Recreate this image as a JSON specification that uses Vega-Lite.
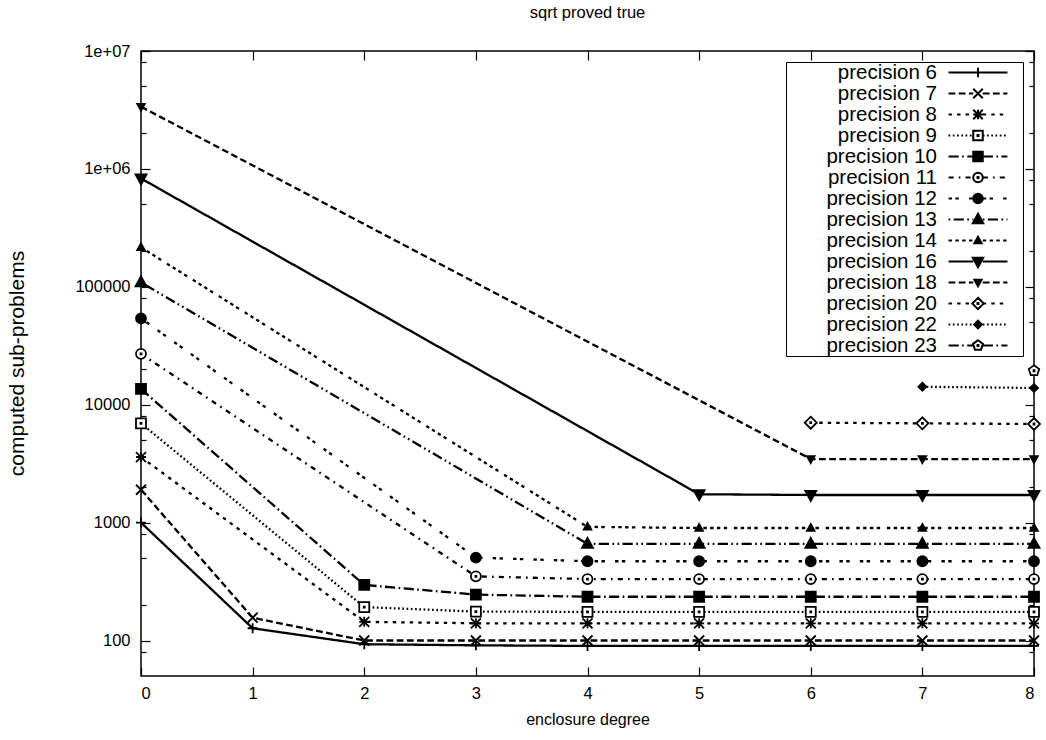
{
  "$schema": "https://vega.github.io/schema/vega-lite/v6.json",
  "width": 893,
  "height": 625,
  "autosize": {"type": "none"},
  "padding": {"left": 141, "top": 51, "right": 12, "bottom": 64},
  "background": "white",
  "config": {
    "font": "Liberation Sans",
    "view": {"stroke": "black", "strokeWidth": 1.5},
    "axis": {"grid": false, "domain": false, "tickColor": "black", "tickWidth": 1.2, "labelColor": "black", "labelFontSize": 16.5, "titleColor": "black", "titleFontSize": 16, "titleFontWeight": "normal", "labelOverlap": false},
    "legend": {"symbolSize": 361, "symbolStrokeWidth": 2, "symbolStrokeColor": "black", "symbolOffset": 181.5, "labelAlign": "right", "labelOffset": -51.5, "labelFontSize": 20.5, "labelColor": "black", "labelLimit": 300, "rowPadding": 0, "padding": 0, "strokeColor": "black", "fillColor": "white"}
  },
  "title": {"text": "sqrt proved true", "fontSize": 16.5, "fontWeight": "normal", "color": "black", "offset": 22},
  "data": {"values": [
    {"s": "precision 6", "x": 0, "y": 1000}, {"s": "precision 6", "x": 1, "y": 127}, {"s": "precision 6", "x": 2, "y": 93}, {"s": "precision 6", "x": 3, "y": 91}, {"s": "precision 6", "x": 4, "y": 90}, {"s": "precision 6", "x": 5, "y": 90}, {"s": "precision 6", "x": 6, "y": 90}, {"s": "precision 6", "x": 7, "y": 90}, {"s": "precision 6", "x": 8, "y": 90},
    {"s": "precision 7", "x": 0, "y": 1900}, {"s": "precision 7", "x": 1, "y": 156}, {"s": "precision 7", "x": 2, "y": 100}, {"s": "precision 7", "x": 3, "y": 100}, {"s": "precision 7", "x": 4, "y": 100}, {"s": "precision 7", "x": 5, "y": 100}, {"s": "precision 7", "x": 6, "y": 100}, {"s": "precision 7", "x": 7, "y": 100}, {"s": "precision 7", "x": 8, "y": 100},
    {"s": "precision 8", "x": 0, "y": 3600}, {"s": "precision 8", "x": 2, "y": 144}, {"s": "precision 8", "x": 3, "y": 140}, {"s": "precision 8", "x": 4, "y": 140}, {"s": "precision 8", "x": 5, "y": 140}, {"s": "precision 8", "x": 6, "y": 140}, {"s": "precision 8", "x": 7, "y": 140}, {"s": "precision 8", "x": 8, "y": 140},
    {"s": "precision 9", "x": 0, "y": 6950}, {"s": "precision 9", "x": 2, "y": 192}, {"s": "precision 9", "x": 3, "y": 176}, {"s": "precision 9", "x": 4, "y": 175}, {"s": "precision 9", "x": 5, "y": 175}, {"s": "precision 9", "x": 6, "y": 175}, {"s": "precision 9", "x": 7, "y": 175}, {"s": "precision 9", "x": 8, "y": 175},
    {"s": "precision 10", "x": 0, "y": 13600}, {"s": "precision 10", "x": 2, "y": 296}, {"s": "precision 10", "x": 3, "y": 245}, {"s": "precision 10", "x": 4, "y": 235}, {"s": "precision 10", "x": 5, "y": 235}, {"s": "precision 10", "x": 6, "y": 235}, {"s": "precision 10", "x": 7, "y": 235}, {"s": "precision 10", "x": 8, "y": 235},
    {"s": "precision 11", "x": 0, "y": 27000}, {"s": "precision 11", "x": 3, "y": 350}, {"s": "precision 11", "x": 4, "y": 332}, {"s": "precision 11", "x": 5, "y": 332}, {"s": "precision 11", "x": 6, "y": 332}, {"s": "precision 11", "x": 7, "y": 332}, {"s": "precision 11", "x": 8, "y": 332},
    {"s": "precision 12", "x": 0, "y": 54000}, {"s": "precision 12", "x": 3, "y": 505}, {"s": "precision 12", "x": 4, "y": 470}, {"s": "precision 12", "x": 5, "y": 470}, {"s": "precision 12", "x": 6, "y": 470}, {"s": "precision 12", "x": 7, "y": 470}, {"s": "precision 12", "x": 8, "y": 470},
    {"s": "precision 13", "x": 0, "y": 109000}, {"s": "precision 13", "x": 4, "y": 660}, {"s": "precision 13", "x": 5, "y": 660}, {"s": "precision 13", "x": 6, "y": 660}, {"s": "precision 13", "x": 7, "y": 660}, {"s": "precision 13", "x": 8, "y": 660},
    {"s": "precision 14", "x": 0, "y": 216000}, {"s": "precision 14", "x": 4, "y": 920}, {"s": "precision 14", "x": 5, "y": 900}, {"s": "precision 14", "x": 6, "y": 900}, {"s": "precision 14", "x": 7, "y": 900}, {"s": "precision 14", "x": 8, "y": 900},
    {"s": "precision 16", "x": 0, "y": 830000}, {"s": "precision 16", "x": 5, "y": 1740}, {"s": "precision 16", "x": 6, "y": 1715}, {"s": "precision 16", "x": 7, "y": 1715}, {"s": "precision 16", "x": 8, "y": 1715},
    {"s": "precision 18", "x": 0, "y": 3370000}, {"s": "precision 18", "x": 6, "y": 3460}, {"s": "precision 18", "x": 7, "y": 3460}, {"s": "precision 18", "x": 8, "y": 3460},
    {"s": "precision 20", "x": 6, "y": 7040}, {"s": "precision 20", "x": 7, "y": 6950}, {"s": "precision 20", "x": 8, "y": 6860},
    {"s": "precision 22", "x": 7, "y": 14200}, {"s": "precision 22", "x": 8, "y": 13870},
    {"s": "precision 23", "x": 8, "y": 19400}
  ]},
  "layer": [
    {
      "mark": {"type": "line", "color": "black", "strokeWidth": 2.3, "clip": true},
      "encoding": {
        "x": {"field": "x", "type": "quantitative", "scale": {"domain": [0, 8], "nice": false},
          "axis": {"orient": "bottom", "values": [0, 1, 2, 3, 4, 5, 6, 7, 8], "tickSize": -9, "labelPadding": 18, "title": "enclosure degree", "titleY": 43, "titleBaseline": "middle"}},
        "y": {"field": "y", "type": "quantitative", "scale": {"type": "log", "domain": [50, 10000000], "nice": false},
          "axis": {"orient": "left", "values": [80, 100, 200, 500, 800, 1000, 2000, 5000, 8000, 10000, 20000, 50000, 80000, 100000, 200000, 500000, 800000, 1000000, 2000000, 5000000, 8000000, 10000000],
            "tickSize": {"condition": {"test": "indexof([100,1000,10000,100000,1000000,10000000], datum.value) >= 0", "value": -9}, "value": -5},
            "labelExpr": "datum.value == 10000000 ? '1e+07' : datum.value == 1000000 ? '1e+06' : (indexof([100,1000,10000,100000], datum.value) >= 0 ? format(datum.value, 'd') : '')",
            "labelPadding": 20, "title": "computed sub-problems", "titleFontSize": 21, "titleX": -124, "titleY": 312, "titleAngle": -90, "titleBaseline": "middle", "titleAlign": "center"}},
        "strokeDash": {"field": "s", "type": "nominal", "legend": null,
          "scale": {"domain": ["precision 6", "precision 7", "precision 8", "precision 9", "precision 10", "precision 11", "precision 12", "precision 13", "precision 14", "precision 16", "precision 18", "precision 20", "precision 22", "precision 23"],
            "range": [[1, 0], [6.8, 3.4], [3.4, 5.1], [1.7, 2.55], [10.2, 3.4, 1.7, 3.4], [5.1, 5.1, 1.7, 5.1], [3.4, 3.4, 3.4, 10.2], [1.7, 3.4, 10.2, 3.4, 1.7, 3.4], [3.4, 3.4, 3.4, 3.4, 3.4, 3.4, 3.4, 6.8], [1, 0], [6.8, 3.4], [3.4, 5.1], [1.7, 2.55], [10.2, 3.4, 1.7, 3.4]]}}
      }
    },
    {
      "mark": {"type": "point", "color": "black", "stroke": "black", "strokeWidth": 1.8, "opacity": 1, "size": 100, "clip": false},
      "encoding": {
        "x": {"field": "x", "type": "quantitative",
          "axis": {"orient": "top", "values": [0, 1, 2, 3, 4, 5, 6, 7, 8], "tickSize": -9, "labels": false, "title": null}},
        "y": {"field": "y", "type": "quantitative",
          "axis": {"orient": "right", "values": [80, 100, 200, 500, 800, 1000, 2000, 5000, 8000, 10000, 20000, 50000, 80000, 100000, 200000, 500000, 800000, 1000000, 2000000, 5000000, 8000000, 10000000],
            "tickSize": {"condition": {"test": "indexof([100,1000,10000,100000,1000000,10000000], datum.value) >= 0", "value": -9}, "value": -5},
            "labels": false, "title": null}},
        "shape": {"field": "s", "type": "nominal", "legend": null,
          "scale": {"domain": ["precision 6", "precision 7", "precision 8", "precision 9", "precision 10", "precision 11", "precision 12", "precision 13", "precision 14", "precision 16", "precision 18", "precision 20", "precision 22", "precision 23"],
            "range": [
              "M-1,0H1M0,-1V1",
              "M-1,-1L1,1M-1,1L1,-1",
              "M-1,0H1M0,-1V1M-1,-1L1,1M-1,1L1,-1",
              "M-1,-1H1V1H-1ZM-0.1,-0.1H0.1V0.1H-0.1Z",
              "M-1,-1H1V1H-1Z",
              "M1,0A1,1,0,1,1,-1,0A1,1,0,1,1,1,0ZM-0.1,-0.1H0.1V0.1H-0.1Z",
              "M1,0A1,1,0,1,1,-1,0A1,1,0,1,1,1,0Z",
              "M0,-1.2L1.1,0.8H-1.1Z",
              "M0,-0.8L0.76,0.56H-0.76Z",
              "M0,1.2L1.1,-0.8H-1.1Z",
              "M0,0.8L0.76,-0.56H-0.76Z",
              "M0,-1.2L1.2,0L0,1.2L-1.2,0ZM-0.1,-0.1H0.1V0.1H-0.1Z",
              "M0,-0.8L0.8,0L0,0.8L-0.8,0Z",
              "M0,-1.1L1.046,-0.34L0.647,0.89L-0.647,0.89L-1.046,-0.34ZM-0.1,-0.1H0.1V0.1H-0.1Z"]}},
        "fill": {"field": "s", "type": "nominal", "legend": null,
          "scale": {"domain": ["precision 6", "precision 7", "precision 8", "precision 9", "precision 10", "precision 11", "precision 12", "precision 13", "precision 14", "precision 16", "precision 18", "precision 20", "precision 22", "precision 23"],
            "range": ["black", "black", "black", "white", "black", "white", "black", "black", "black", "black", "black", "white", "black", "white"]}}
      }
    },
    {
      "transform": [{"filter": "false"}],
      "mark": {"type": "point", "color": "black", "stroke": "black", "strokeWidth": 2, "opacity": 1},
      "encoding": {
        "shape": {"field": "s", "type": "nominal",
          "scale": {"domain": ["precision 6", "precision 7", "precision 8", "precision 9", "precision 10", "precision 11", "precision 12", "precision 13", "precision 14", "precision 16", "precision 18", "precision 20", "precision 22", "precision 23"],
            "range": [
              "M-3.1,0H-0.5M0.5,0H3.1M-0.5,0H0.5M0,-0.5V0.5M4.3,0",
              "M-3.1,0H-2.39M-2.03,0H-1.31M-0.96,0H-0.5M0.5,0H1.22M1.57,0H2.29M2.65,0H3.1M-0.5,-0.5L0.5,0.5M-0.5,0.5L0.5,-0.5M4.3,0",
              "M-3.1,0H-2.74M-2.2,0H-1.84M-1.31,0H-0.95M0.5,0H0.86M1.4,0H1.76M2.29,0H2.65M-0.5,0H0.5M0,-0.5V0.5M-0.5,-0.5L0.5,0.5M-0.5,0.5L0.5,-0.5M4.3,0",
              "M-3.1,0H-2.92M-2.65,0H-2.47M-2.2,0H-2.02M-1.75,0H-1.57M-1.31,0H-1.13M-0.86,0H-0.68M0.5,0H0.68M0.95,0H1.13M1.4,0H1.58M1.84,0H2.02M2.29,0H2.47M2.74,0H2.92M-0.5,-0.5H0.5V0.5H-0.5ZM-0.05,-0.05H0.05V0.05H-0.05ZM4.3,0",
              "M-3.1,0H-2.03M-1.67,0H-1.49M-1.13,0H-0.5M0.5,0H1.57M1.93,0H2.11M2.47,0H3.1M-0.5,-0.5H0.5V0.5H-0.5ZM4.3,0",
              "M-3.1,0H-2.56M-2.03,0H-1.85M-1.31,0H-0.77M0.5,0H1.04M1.57,0H1.75M2.29,0H2.83M0.5,0A0.5,0.5,0,1,1,-0.5,0A0.5,0.5,0,1,1,0.5,0ZM-0.05,-0.05H0.05V0.05H-0.05ZM4.3,0",
              "M-3.1,0H-2.74M-2.38,0H-2.02M-0.95,0H-0.59M0.5,0H0.86M1.22,0H1.58M2.65,0H3.01M0.5,0A0.5,0.5,0,1,1,-0.5,0A0.5,0.5,0,1,1,0.5,0ZM4.3,0",
              "M-3.1,0H-2.92M-2.56,0H-1.49M-1.13,0H-0.95M-0.59,0H-0.5M0.5,0H0.68M1.04,0H2.11M2.47,0H2.65M3.01,0H3.1M0,-0.6L0.55,0.4H-0.55ZM4.3,0",
              "M-3.1,0H-2.74M-2.38,0H-2.02M-1.67,0H-1.31M-0.95,0H-0.59M0.5,0H0.86M1.22,0H1.58M1.93,0H2.29M2.65,0H3.01M0,-0.4L0.38,0.28H-0.38ZM4.3,0",
              "M-3.1,0H-0.5M0.5,0H3.1M0,0.6L0.55,-0.4H-0.55ZM4.3,0",
              "M-3.1,0H-2.39M-2.03,0H-1.31M-0.96,0H-0.5M0.5,0H1.22M1.57,0H2.29M2.65,0H3.1M0,0.4L0.38,-0.28H-0.38ZM4.3,0",
              "M-3.1,0H-2.74M-2.2,0H-1.84M-1.31,0H-0.95M0.5,0H0.86M1.4,0H1.76M2.29,0H2.65M0,-0.6L0.6,0L0,0.6L-0.6,0ZM-0.05,-0.05H0.05V0.05H-0.05ZM4.3,0",
              "M-3.1,0H-2.92M-2.65,0H-2.47M-2.2,0H-2.02M-1.75,0H-1.57M-1.31,0H-1.13M-0.86,0H-0.68M0.5,0H0.68M0.95,0H1.13M1.4,0H1.58M1.84,0H2.02M2.29,0H2.47M2.74,0H2.92M0,-0.4L0.4,0L0,0.4L-0.4,0ZM4.3,0",
              "M-3.1,0H-2.03M-1.67,0H-1.49M-1.13,0H-0.5M0.5,0H1.57M1.93,0H2.11M2.47,0H3.1M0,-0.55L0.523,-0.17L0.323,0.445L-0.323,0.445L-0.523,-0.17ZM-0.05,-0.05H0.05V0.05H-0.05ZM4.3,0"]},
          "legend": {"title": null, "orient": "none", "legendX": 645, "legendY": 11,
            "encode": {"symbols": {"update": {"stroke": {"value": "black"}, "strokeWidth": {"value": 2}, "strokeOpacity": {"value": 1}}}, "legend": {"update": {"strokeWidth": {"value": 1.5}}}}}},
        "fill": {"field": "s", "type": "nominal",
          "scale": {"domain": ["precision 6", "precision 7", "precision 8", "precision 9", "precision 10", "precision 11", "precision 12", "precision 13", "precision 14", "precision 16", "precision 18", "precision 20", "precision 22", "precision 23"],
            "range": ["black", "black", "black", "white", "black", "white", "black", "black", "black", "black", "black", "white", "black", "white"]},
          "legend": {"title": null, "orient": "none", "legendX": 645, "legendY": 11,
            "encode": {"symbols": {"update": {"stroke": {"value": "black"}, "strokeWidth": {"value": 2}, "strokeOpacity": {"value": 1}}}, "legend": {"update": {"strokeWidth": {"value": 1.5}}}}}},
        "stroke": {"field": "s", "type": "nominal",
          "scale": {"domain": ["precision 6", "precision 7", "precision 8", "precision 9", "precision 10", "precision 11", "precision 12", "precision 13", "precision 14", "precision 16", "precision 18", "precision 20", "precision 22", "precision 23"],
            "range": ["black", "black", "black", "black", "black", "black", "black", "black", "black", "black", "black", "black", "black", "black"]},
          "legend": {"title": null, "orient": "none", "legendX": 645, "legendY": 11,
            "encode": {"symbols": {"update": {"stroke": {"value": "black"}, "strokeWidth": {"value": 2}, "strokeOpacity": {"value": 1}}}, "legend": {"update": {"strokeWidth": {"value": 1.5}}}}}}
      }
    }
  ],
  "resolve": {"scale": {"shape": "independent", "fill": "independent", "strokeDash": "independent", "stroke": "independent"}, "axis": {"x": "independent", "y": "independent"}}
}
